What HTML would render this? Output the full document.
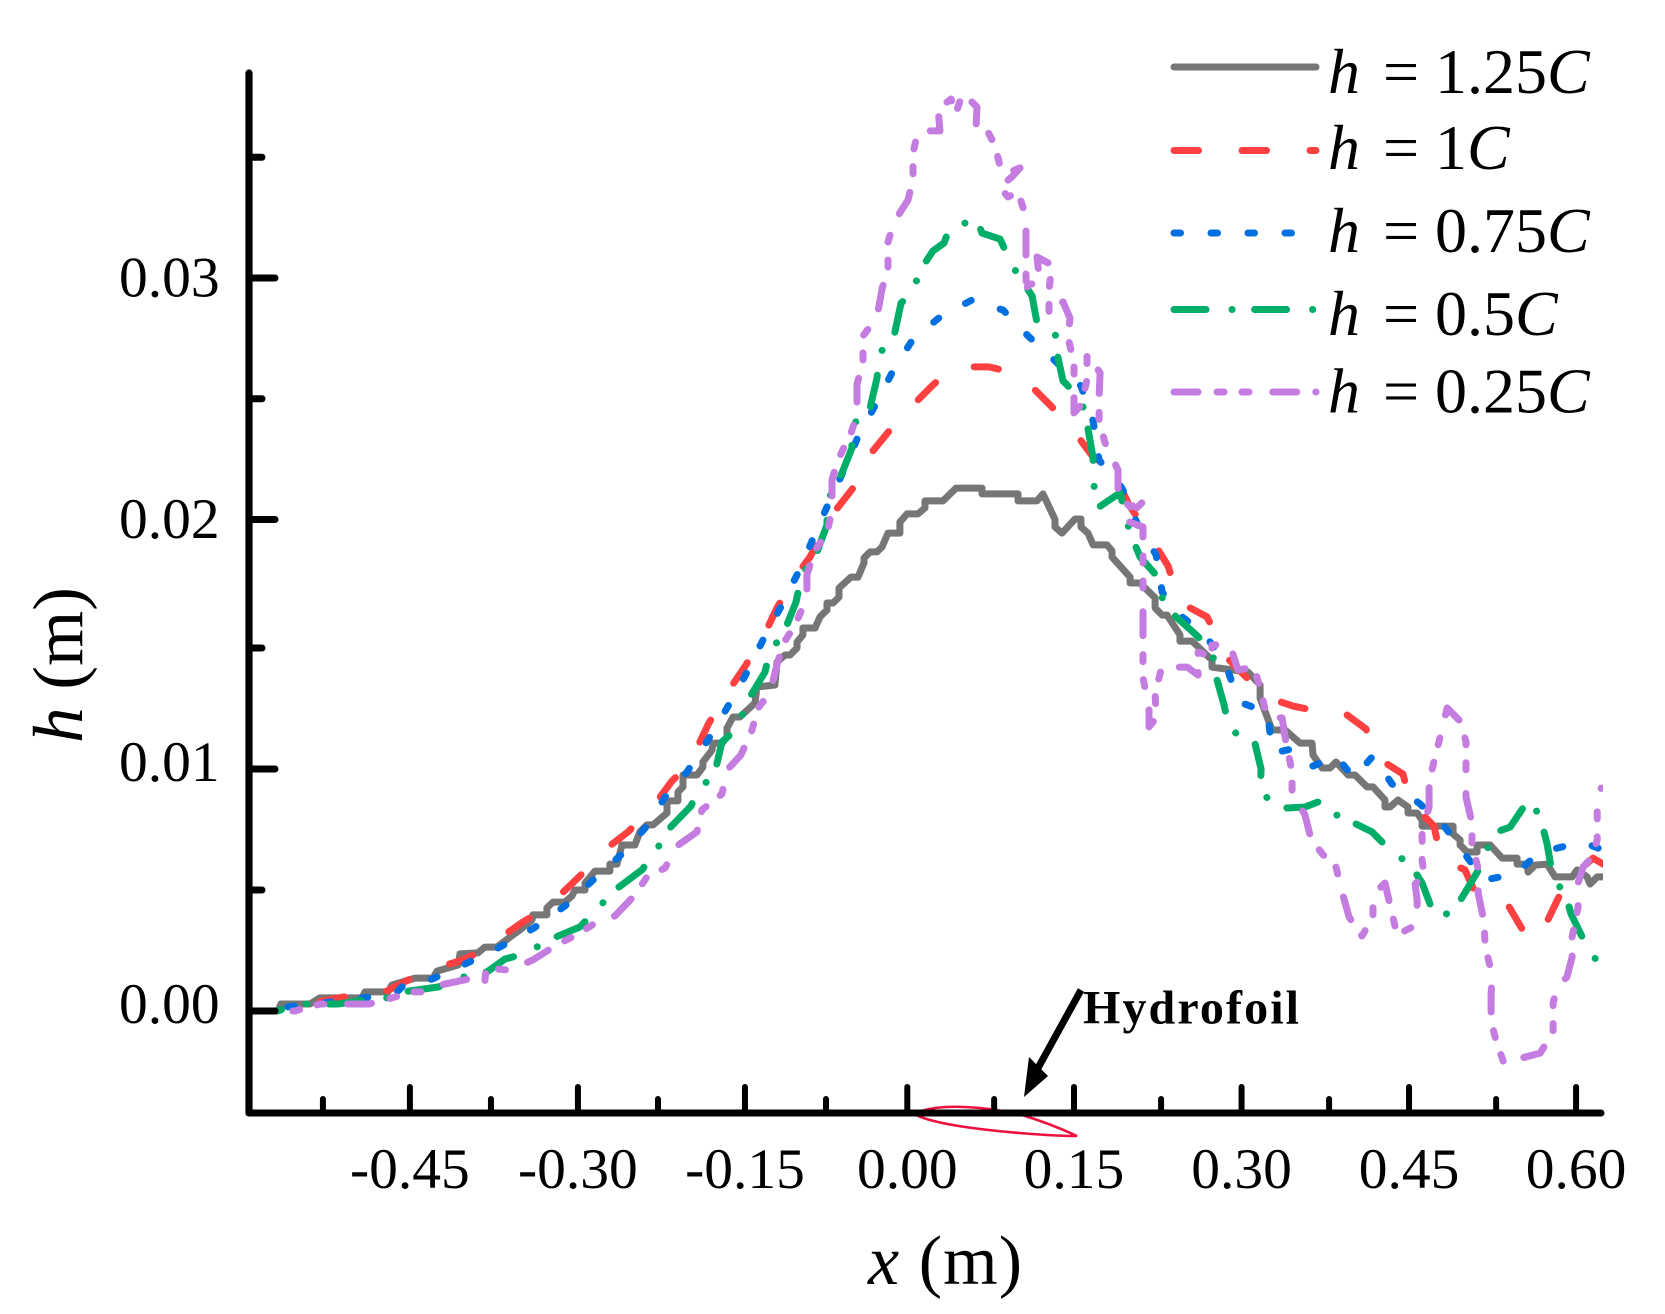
<!DOCTYPE html>
<html lang="en">
<head>
<meta charset="utf-8">
<title>Wave height h against x</title>
<style>
html,body{margin:0;padding:0;background:#fff;}
svg{display:block;}
text{font-family:"Liberation Serif",serif;fill:#000;}
</style>
</head>
<body>
<svg id="chart" xmlns="http://www.w3.org/2000/svg" width="1665" height="1314" viewBox="0 0 1665 1314">
  <defs>
    <clipPath id="plot-clip"><rect x="245" y="0" width="1358" height="1314"/></clipPath>
  </defs>
  <rect x="0" y="0" width="1665" height="1314" fill="#fff"/>
  <path fill="none" stroke="#f01040" stroke-width="2.6" d="M914 1114 C925 1108 945 1106 965 1107 C990 1108 1010 1112 1022 1115 C1042 1121 1062 1129 1077 1136 C1050 1136 1000 1132 965 1127 C945 1124 925 1120 914 1114 Z"/>
  <g id="series-layer" clip-path="url(#plot-clip)" fill="none"></g>
  <g id="axis-layer"></g>

  <text x="868" y="1284" font-size="70" textLength="154"><tspan font-style="italic">x</tspan> (m)</text>
  <text transform="translate(82 665) rotate(-90)" text-anchor="middle" font-size="71"><tspan font-style="italic">h</tspan> (m)</text>

  <g>
    <text x="1083" y="1023.5" font-size="48" font-weight="bold" textLength="216">Hydrofoil</text>
    <line x1="1081" y1="990" x2="1038" y2="1068" stroke="#000" stroke-width="7"/>
    <polygon points="1024,1097 1029,1057 1048,1076" fill="#000"/>
  </g>

  <g>
    <g>
      <line x1="1174" y1="67" x2="1316" y2="67" stroke="#767676" stroke-width="7" stroke-linecap="round"/>
      <text y="93" font-size="64"><tspan x="1328" font-style="italic">h</tspan> <tspan x="1383">=</tspan> <tspan x="1435">1.25</tspan><tspan font-style="italic">C</tspan></text>
    </g>
    <g>
      <line x1="1174" y1="150.5" x2="1316" y2="150.5" stroke="#ff4040" stroke-width="7" stroke-linecap="round" stroke-dasharray="24.5 43.5"/>
      <text y="169" font-size="64"><tspan x="1328" font-style="italic">h</tspan> <tspan x="1383">=</tspan> <tspan x="1435">1</tspan><tspan font-style="italic">C</tspan></text>
    </g>
    <g>
      <line x1="1174" y1="233" x2="1316" y2="233" stroke="#0070e0" stroke-width="7" stroke-linecap="round" stroke-dasharray="6.5 30.5"/>
      <text y="252" font-size="64"><tspan x="1328" font-style="italic">h</tspan> <tspan x="1383">=</tspan> <tspan x="1435">0.75</tspan><tspan font-style="italic">C</tspan></text>
    </g>
    <g>
      <line x1="1174" y1="309.5" x2="1316" y2="309.5" stroke="#00ae68" stroke-width="7" stroke-linecap="round" stroke-dasharray="32 26 0.1 22.5"/>
      <text y="335" font-size="64"><tspan x="1328" font-style="italic">h</tspan> <tspan x="1383">=</tspan> <tspan x="1435">0.5</tspan><tspan font-style="italic">C</tspan></text>
    </g>
    <g>
      <line x1="1174" y1="392" x2="1316" y2="392" stroke="#c47ce0" stroke-width="7" stroke-linecap="round" stroke-dasharray="24 19 7 18 7 23.75"/>
      <text y="412.5" font-size="64"><tspan x="1328" font-style="italic">h</tspan> <tspan x="1383">=</tspan> <tspan x="1435">0.25</tspan><tspan font-style="italic">C</tspan></text>
    </g>
  </g>
</svg>
<script>
const xMajorTicks = [-0.4461, -0.2954, -0.1456, 0, 0.1495, 0.2998, 0.45, 0.5998];
const xMajorLabels = ["-0.45", "-0.30", "-0.15", "0.00", "0.15", "0.30", "0.45", "0.60"];
const xMinorTicks = [-0.5241, -0.3734, -0.2236, -0.0729, 0.0779, 0.2276, 0.3783, 0.5281];
const yMajorTicks = [0, 0.01, 0.02, 0.03];
const yMajorLabels = ["0.00", "0.01", "0.02", "0.03"];
const yMinorTicks = [0.005, 0.015, 0.025, 0.035];

const h125 = [[-.5645,0],[-.5618,.00029],[-.5358,.00029],[-.5268,.00054],[-.4891,.00054],[-.4864,.00079],[-.4658,.00079],[-.4622,.00107],[-.4416,.00136],[-.4254,.00136],[-.4218,.00165],[-.4030,.0019],[-.4012,.00236],[-.3851,.0024],[-.3788,.00264],[-.3681,.00264],[-.3537,.00314],[-.3474,.00335],[-.3366,.00376],[-.3357,.00397],[-.3232,.00397],[-.3232,.00426],[-.3178,.0045],[-.3070,.0045],[-.3008,.00475],[-.2981,.005],[-.2891,.005],[-.2891,.00529],[-.2801,.00578],[-.2667,.00578],[-.2667,.00607],[-.2604,.00607],[-.2559,.00686],[-.2443,.00686],[-.2398,.0074],[-.2335,.00769],[-.2281,.00769],[-.2155,.00818],[-.2155,.00868],[-.2057,.00868],[-.2057,.00905],[-.2012,.00926],[-.2012,.00975],[-.1886,.00975],[-.1833,.01008],[-.1833,.01029],[-.1752,.01078],[-.1743,.01107],[-.1662,.01107],[-.1617,.01132],[-.1617,.01169],[-.1563,.01215],[-.1501,.01215],[-.1366,.01273],[-.1348,.01339],[-.1187,.01347],[-.1169,.01442],[-.1097,.01471],[-.1052,.01471],[-.0989,.015],[-.0989,.01523],[-.0936,.01551],[-.0936,.01578],[-.0828,.01578],[-.0783,.01621],[-.0720,.01648],[-.0720,.01675],[-.0666,.01675],[-.0613,.01698],[-.0613,.01733],[-.0505,.01776],[-.0442,.01776],[-.0388,.01831],[-.0388,.0185],[-.0334,.01874],[-.0272,.01874],[-.0227,.01893],[-.0173,.01947],[-.0066,.01947],[-.0066,.0199],[-.0003,.02023],[.0096,.02023],[.0159,.02048],[.0159,.02077],[.0320,.02077],[.0437,.0213],[.0670,.0213],[.0670,.02106],[.0993,.02106],[.0993,.02077],[.1163,.02077],[.1217,.02106],[.1325,.02],[.1325,.01971],[.1387,.01947],[.1504,.02002],[.1558,.02002],[.1558,.01971],[.1621,.01947],[.1666,.01901],[.1791,.01901],[.1836,.01878],[.1836,.01854],[.1998,.01776],[.1998,.01753],[.2088,.01753],[.2222,.01695],[.2222,.01656],[.2285,.01628],[.2330,.01628],[.2446,.01551],[.2446,.01527],[.2554,.01527],[.2733,.0145],[.2733,.01421],[.3056,.01401],[.3164,.01347],[.3164,.01293],[.3271,.01161],[.3388,.01161],[.3522,.01107],[.3630,.01107],[.3639,.01058],[.3720,.01004],[.3791,.01004],[.3845,.01029],[.3953,.00975],[.4015,.00975],[.4123,.00926],[.4177,.00926],[.4284,.00872],[.4284,.00843],[.4329,.00843],[.4401,.00872],[.4491,.00843],[.4491,.00818],[.4572,.00818],[.4617,.00789],[.4617,.00764],[.4895,.00764],[.4895,.00731],[.4958,.00707],[.4958,.00686],[.5020,.00657],[.5110,.00657],[.5110,.00686],[.5227,.00686],[.5335,.00632],[.5469,.00632],[.5469,.00607],[.5559,.00607],[.5568,.00574],[.5631,.00603],[.5738,.00607],[.5810,.00554],[.5963,.00554],[.6007,.00583],[.6097,.00554],[.6124,.00525],[.6187,.00554],[.6241,.00554]];

const h100 = [[-.5627,.00017],[-.5286,.00037],[-.5062,.00058],[-.4864,.00058],[-.4685,.00079],[-.4443,.00136],[-.4192,.00182],[-.3985,.00211],[-.3833,.00244],[-.3681,.00293],[-.3447,.00368],[-.3295,.00409],[-.3133,.00471],[-.2936,.00558],[-.2739,.00657],[-.2505,.0074],[-.2290,.00839],[-.2111,.0095],[-.1994,.01004],[-.1895,.01078],[-.1779,.0119],[-.1617,.01314],[-.1447,.0143],[-.1276,.01558],[-.1169,.01656],[-.1007,.01776],[-.0873,.01854],[-.0675,.02019],[-.0487,.0213],[-.0353,.02259],[-.0155,.02371],[.0042,.0247],[.0230,.02557],[.0383,.02619],[.0544,.02632],[.0733,.02632],[.0921,.02611],[.1100,.02557],[.1289,.0247],[.1486,.02371],[.1666,.02259],[.1881,.02164],[.1989,.0206],[.2222,.01901],[.2339,.01819],[.2437,.01679],[.2688,.01621],[.2877,.01455],[.3011,.01393],[.3218,.01297],[.3460,.0126],[.3720,.01235],[.3909,.01235],[.4115,.01165],[.4177,.01058],[.4446,.00979],[.4509,.00864],[.4724,.00764],[.4787,.00628],[.5002,.00583],[.5110,.00471],[.5397,.0043],[.5514,.00339],[.5657,.00293],[.5783,.00413],[.5908,.00533],[.6150,.00632],[.6240,.00607]];

const h075 = [[-.5555,.00017],[-.4873,.00054],[-.4577,.00079],[-.4505,.00112],[-.4263,.00132],[-.3949,.00198],[-.3654,.00264],[-.3349,.00343],[-.3070,.00434],[-.2819,.00541],[-.2568,.00645],[-.2335,.00764],[-.2173,.00884],[-.1976,.00988],[-.1788,.0112],[-.1617,.01252],[-.1456,.01384],[-.1285,.01539],[-.1115,.01675],[-.0945,.01823],[-.0837,.01935],[-.0720,.02052],[-.0576,.02197],[-.0442,.02342],[-.0272,.02487],[-.0119,.02623],[.0051,.02747],[.0302,.02842],[.0580,.02909],[.0859,.02867],[.1083,.0276],[.1289,.02673],[.1558,.02553],[.1666,.02408],[.1720,.02246],[.1926,.0213],[.2060,.01986],[.2231,.01862],[.2285,.01718],[.2455,.01625],[.2670,.01551],[.2850,.01438],[.2975,.01277],[.3227,.01235],[.3280,.01066],[.3451,.01083],[.3639,.01012],[.3845,.01054],[.4006,.00963],[.4177,.01054],[.4347,.00938],[.4589,.00859],[.4814,.00764],[.5173,.00541],[.5451,.00566],[.5675,.00657],[.6061,.00698],[.6240,.00665]];

const h050 = [[-.5897,0],[-.5645,0],[-.5474,.00029],[-.5384,.00029],[-.5196,.00029],[-.5106,.00029],[-.4747,.00054],[-.4658,.00054],[-.4523,.00079],[-.4209,.00099],[-.3985,.0014],[-.3770,.00161],[-.3608,.00215],[-.3402,.0024],[-.3241,.00289],[-.2936,.00347],[-.2783,.00421],[-.2622,.005],[-.2380,.00583],[-.2254,.00657],[-.2173,.00736],[-.1940,.00847],[-.1868,.00921],[-.1734,.00971],[-.1662,.01112],[-.1510,.01174],[-.1456,.01264],[-.1276,.01401],[-.1232,.01488],[-.1115,.01551],[-.0998,.01679],[-.0945,.01792],[-.0837,.01842],[-.0720,.01979],[-.0720,.02077],[-.0622,.02151],[-.0496,.02296],[-.0505,.02391],[-.0344,.02441],[-.0272,.02586],[-.0254,.02685],[-.0119,.0276],[-.0056,.02897],[.0051,.02938],[.0105,.03025],[.0230,.03112],[.0329,.03145],[.0383,.03211],[.0625,.0324],[.0670,.03186],[.0831,.03161],[.0948,.03046],[.1119,.02926],[.1163,.02814],[.1262,.02797],[.1343,.02756],[.1343,.0269],[.1396,.02574],[.1558,.02499],[.1612,.024],[.1666,.02255],[.1666,.02155],[.1720,.02052],[.1908,.0211],[.1998,.01947],[.2088,.01854],[.2222,.01788],[.2276,.01702],[.2410,.01621],[.2563,.01562],[.2733,.01492],[.2778,.01368],[.2841,.01264],[.2885,.01165],[.3119,.01103],[.3173,.01],[.3164,.00897],[.3406,.00839],[.3567,.00843],[.3729,.00872],[.3909,.00781],[.4006,.00777],[.4168,.0074],[.4347,.00657],[.4509,.00607],[.4617,.00529],[.4733,.00388],[.4895,.00409],[.5011,.00496],[.5191,.00636],[.5218,.00702],[.5308,.00744],[.5406,.0076],[.5576,.00876],[.5675,.00802],[.5738,.0069],[.5792,.00545],[.5899,.00488],[.5953,.00401],[.6079,.00281],[.6178,.00211],[.6240,.0019]];

const h025 = [[-.5897,0],[-.5672,0],[-.5492,0],[-.5268,.00029],[-.4828,.00029],[-.4622,.00054],[-.4434,.00079],[-.4326,.00079],[-.4192,.00107],[-.3940,.00132],[-.3788,.00124],[-.3778,.00178],[-.3571,.00169],[-.3357,.00211],[-.3160,.00269],[-.2954,.00318],[-.2783,.00368],[-.2622,.00393],[-.2443,.00479],[-.2335,.00554],[-.2173,.00591],[-.2066,.00682],[-.1886,.0074],[-.1842,.00831],[-.1662,.00897],[-.1617,.00996],[-.1492,.01058],[-.1393,.01161],[-.1339,.01252],[-.1232,.01314],[-.1169,.0143],[-.1115,.01516],[-.1007,.01589],[-.0900,.01695],[-.0900,.01784],[-.0837,.01874],[-.0720,.01947],[-.0675,.02039],[-.0675,.02164],[-.0622,.02246],[-.0505,.02358],[-.0451,.02433],[-.0451,.02561],[-.0397,.02648],[-.0397,.0276],[-.0272,.02839],[-.0227,.02954],[-.0173,.03041],[-.0173,.03149],[-.0119,.03232],[.0006,.03323],[.0051,.0341],[.0051,.03518],[.0096,.03609],[.0293,.03609],[.0275,.037],[.0392,.03741],[.0437,.03683],[.0499,.0377],[.0544,.03745],[.0625,.03708],[.0616,.03621],[.0715,.03613],[.0787,.03547],[.0831,.03464],[.0858,.03427],[.1011,.03456],[.0939,.03419],[.0831,.03377],[.0903,.03336],[.0993,.03356],[.1065,.03253],[.1065,.03145],[.1065,.03021],[.1065,.02938],[.1083,.02975],[.1190,.02975],[.1163,.03087],[.1298,.03054],[.1271,.02951],[.1271,.02843],[.1396,.02901],[.1459,.02834],[.1442,.02752],[.1495,.02648],[.1495,.02536],[.1495,.02441],[.1558,.02474],[.1612,.02578],[.1612,.02689],[.1729,.02607],[.1720,.02511],[.1720,.02408],[.1774,.02317],[.1890,.02205],[.1890,.02106],[.1998,.02052],[.2132,.02081],[.1944,.01998],[.2114,.01971],[.2114,.01862],[.2114,.01667],[.2114,.01589],[.2114,.01479],[.2114,.01376],[.2168,.01256],[.2168,.01174],[.2231,.01211],[.2222,.01314],[.2285,.01426],[.2419,.01421],[.2509,.01421],[.2608,.01388],[.2608,.01483],[.2733,.01463],[.2733,.01512],[.2832,.01512],[.2894,.01512],[.2966,.01409],[.3110,.01421],[.3173,.01318],[.3227,.01211],[.3361,.01211],[.3397,.01107],[.3451,.00988],[.3451,.00901],[.3567,.0081],[.3621,.00711],[.3729,.00645],[.3836,.00612],[.3899,.00492],[.3962,.00388],[.4078,.0031],[.4177,.00388],[.4177,.00479],[.4284,.00529],[.4338,.00421],[.4392,.00314],[.4527,.00347],[.4572,.00417],[.4572,.00459],[.4554,.00525],[.4635,.00562],[.4617,.00624],[.4617,.00748],[.4680,.00843],[.4680,.00946],[.4734,.0105],[.4796,.01165],[.4841,.01252],[.4958,.01198],[.5011,.01112],[.5011,.00992],[.5011,.00884],[.5065,.00777],[.5065,.00694],[.5128,.0057],[.5119,.00488],[.5173,.00368],[.5182,.00269],[.5245,.00149],[.5236,.00066],[.5236,-.00041],[.5281,-.00124],[.5353,-.00219],[.5514,-.00194],[.5675,-.00174],[.5792,-.00087],[.5792,.00033],[.5828,.00099],[.5917,.00141],[.5962,.00223],[.5962,.00306],[.6016,.0043],[.6016,.00529],[.6061,.00595],[.6142,.00636],[.6187,.00707],[.6187,.00822],[.6223,.00921]];

const NS = "http://www.w3.org/2000/svg";

function xScale(v) {
  return 907.3 + v * 1115;
}
/* The printed vertical axis is slightly stretched between its 0.015 and 0.02 ticks. */
function yScale(v) {
  if (v <= 0.015) return 1011 - v * 24200;
  if (v >= 0.02) return 519.5 - (v - 0.02) * 24150;
  return 648 - (v - 0.015) * 25700;
}
function make(tag, attrs, parent) {
  const el = document.createElementNS(NS, tag);
  for (const k in attrs) el.setAttribute(k, attrs[k]);
  parent.appendChild(el);
  return el;
}

const seriesLayer = document.getElementById("series-layer");
const axisLayer = document.getElementById("axis-layer");

function drawSeries(points, color, dash, offset, name) {
  const d = points.map((p, i) => (i ? "L" : "M") + xScale(p[0]).toFixed(1) + " " + yScale(p[1]).toFixed(1)).join(" ");
  const el = make("path", {
    d: d,
    stroke: color,
    "stroke-width": 7,
    "stroke-linejoin": "round",
    "stroke-linecap": dash ? "round" : "butt",
    "stroke-dasharray": dash || "none",
    "stroke-dashoffset": offset
  }, seriesLayer);
  
  
}
drawSeries(h125, "#767676", "", 0, "series-h-1-25c");
drawSeries(h100, "#ff4040", "24.5 43.5", 27, "series-h-1c");
drawSeries(h075, "#0070e0", "6.5 30.5", 0, "series-h-0-75c");
drawSeries(h050, "#00ae68", "32 26 0.1 22.5", 0, "series-h-0-5c");
drawSeries(h025, "#c47ce0", "24 19 7 18 7 23.75", 0, "series-h-0-25c");

const axisStroke = { stroke: "#000", "stroke-linecap": "round" };

const yAxisLine = make("line", Object.assign({ x1: 249, y1: 73, x2: 249, y2: 1113, "stroke-width": 7.2 }, axisStroke), axisLayer);



const xAxisLine = make("line", Object.assign({ x1: 249, y1: 1113, x2: 1601, y2: 1113, "stroke-width": 7 }, axisStroke), axisLayer);



xMajorTicks.forEach(function (v, i) {
  const px = xScale(v);
  const tick = make("line", Object.assign({ x1: px, y1: 1113, x2: px, y2: 1087, "stroke-width": 6 }, axisStroke), axisLayer);
  
  
  const label = make("text", { x: px, y: 1188, "font-size": 57.5, "text-anchor": "middle" }, axisLayer);
  
  
  label.textContent = xMajorLabels[i];
});

xMinorTicks.forEach(function (v) {
  const px = xScale(v);
  const tick = make("line", Object.assign({ x1: px, y1: 1113, x2: px, y2: 1099, "stroke-width": 6 }, axisStroke), axisLayer);
  
  
});

yMajorTicks.forEach(function (v, i) {
  const py = yScale(v);
  const tick = make("line", Object.assign({ x1: 249, y1: py, x2: 275, y2: py, "stroke-width": 7 }, axisStroke), axisLayer);
  
  
  const label = make("text", { x: 119, y: py + (v >= 0.02 ? 18.7 : 12.2), "font-size": 57.5 }, axisLayer);
  
  
  label.textContent = yMajorLabels[i];
});

yMinorTicks.forEach(function (v) {
  const py = yScale(v);
  const tick = make("line", Object.assign({ x1: 249, y1: py, x2: 262, y2: py, "stroke-width": 7 }, axisStroke), axisLayer);
  
  
});
</script>
</body>
</html>
